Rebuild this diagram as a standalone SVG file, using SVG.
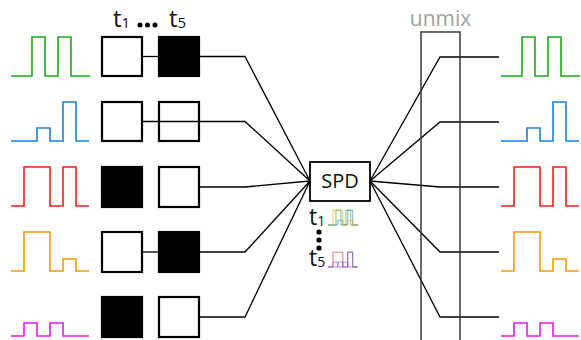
<svg xmlns="http://www.w3.org/2000/svg" xmlns:xlink="http://www.w3.org/1999/xlink" width="581" height="340" viewBox="0 0 581 340">
<style>
.wave{fill:none;stroke-width:1.6;stroke-linejoin:miter}
.g{stroke:#1aaa1a}.b{stroke:#1a80d8}.r{stroke:#f01c1c}.o{stroke:#f59b00}.m{stroke:#ea16ea}
.mini .wave{stroke-width:1.6;vector-effect:non-scaling-stroke}
.box{stroke:#000;stroke-width:2.2}
.w{fill:#fff}.k{fill:#000}
.conn{fill:none;stroke:#000;stroke-width:1.3}
.lbl{font-family:"Open Sans","DejaVu Sans",sans-serif;fill:#111}
.dot{fill:#000}
</style>
<defs>
<path id="wg" d="M0,0 H21 V-39 H34 V0 H47 V-39 H60 V0 H79"/>
<path id="wb" d="M0,0 H26 V-13 H39 V0 H52 V-39 H65 V0 H78"/>
<path id="wr" d="M0,0 H13 V-39 H39 V0 H52 V-39 H65 V0 H78"/>
<path id="wo" d="M0,0 H13 V-39 H39 V0 H52 V-12 H65 V0 H78"/>
<path id="wm" d="M0,0 H13 V-13 H26 V0 H39 V-13 H52 V0 H78"/>
</defs>

<g id="connectors">
<path class="conn" d="M142,56.5 H159"/>
<path class="conn" d="M199,56.5 H245 L310,181"/>
<path class="conn" d="M142,121.5 H245 L310,181"/>
<path class="conn" d="M199,187 H245 L310,181"/>
<path class="conn" d="M142,252 H159"/>
<path class="conn" d="M199,252 H245 L310,181"/>
<path class="conn" d="M199,317 H245 L310,181"/>
<path class="conn" d="M370,181 L440,57 H499"/>
<path class="conn" d="M370,181 L440,122 H499"/>
<path class="conn" d="M370,181 L440,187 H499"/>
<path class="conn" d="M370,181 L440,252 H499"/>
<path class="conn" d="M370,181 L440,317 H499"/>
</g>

<g id="input-waves">
<use href="#wg" class="wave g" x="11" y="76"/>
<use href="#wb" class="wave b" x="11" y="141"/>
<use href="#wr" class="wave r" x="11" y="206"/>
<use href="#wo" class="wave o" x="11" y="271"/>
<use href="#wm" class="wave m" x="11" y="336"/>
</g>

<g id="masks-t1">
<rect class="box w" x="102" y="37" width="40" height="39"/>
<rect class="box w" x="102" y="102" width="40" height="39"/>
<rect class="box k" x="102" y="167" width="40" height="40"/>
<rect class="box w" x="102" y="232" width="40" height="40"/>
<rect class="box k" x="102" y="297" width="40" height="40"/>
</g>
<g id="masks-t5">
<rect class="box k" x="159" y="37" width="40" height="39"/>
<rect class="box" x="159" y="102" width="40" height="39" fill="none"/>
<rect class="box w" x="159" y="167" width="40" height="40"/>
<rect class="box k" x="159" y="232" width="40" height="40"/>
<rect class="box w" x="159" y="297" width="40" height="40"/>
</g>

<g id="time-labels">
<text class="lbl" x="113" y="27" font-size="24">t<tspan font-size="15" dy="1">1</tspan></text>
<circle class="dot" cx="140" cy="25" r="2.5"/>
<circle class="dot" cx="147.5" cy="25" r="2.5"/>
<circle class="dot" cx="155" cy="25" r="2.5"/>
<text class="lbl" x="169" y="27" font-size="24">t<tspan font-size="15" dy="1">5</tspan></text>
</g>

<g id="spd">
<rect x="310" y="162" width="60" height="39" fill="#fff" stroke="#000" stroke-width="1.8"/>
<text class="lbl" x="340" y="188" font-size="20" text-anchor="middle" fill="#000">SPD</text>
</g>

<g id="spd-t1">
<text class="lbl" x="309" y="225" font-size="23">t<tspan font-size="14" dy="1">1</tspan></text>
<g class="mini" transform="translate(328,225) scale(0.38)">
<use href="#wg" class="wave g"/>
<use href="#wb" class="wave b"/>
<use href="#wo" class="wave o"/>
</g>
</g>
<g id="spd-dots">
<circle class="dot" cx="319" cy="232" r="2.6"/>
<circle class="dot" cx="319" cy="240" r="2.6"/>
<circle class="dot" cx="319" cy="248" r="2.6"/>
</g>
<g id="spd-t5">
<text class="lbl" x="309" y="266" font-size="23">t<tspan font-size="14" dy="1">5</tspan></text>
<g class="mini" transform="translate(328,267) scale(0.38)">
<use href="#wr" class="wave r"/>
<use href="#wm" class="wave m"/>
<use href="#wb" class="wave b"/>
</g>
</g>

<g id="unmix">
<path d="M421,341 V32 H460 V341" fill="none" stroke="#3a3a3a" stroke-width="1.5"/>
<text x="440.5" y="26" font-size="21" text-anchor="middle" font-family="'Open Sans','DejaVu Sans',sans-serif" fill="#a0a0a0">unmix</text>
</g>

<g id="output-waves">
<use href="#wg" class="wave g" x="501" y="76"/>
<use href="#wb" class="wave b" x="501" y="141"/>
<use href="#wr" class="wave r" x="501" y="206"/>
<use href="#wo" class="wave o" x="501" y="271"/>
<use href="#wm" class="wave m" x="501" y="336"/>
</g>
</svg>
